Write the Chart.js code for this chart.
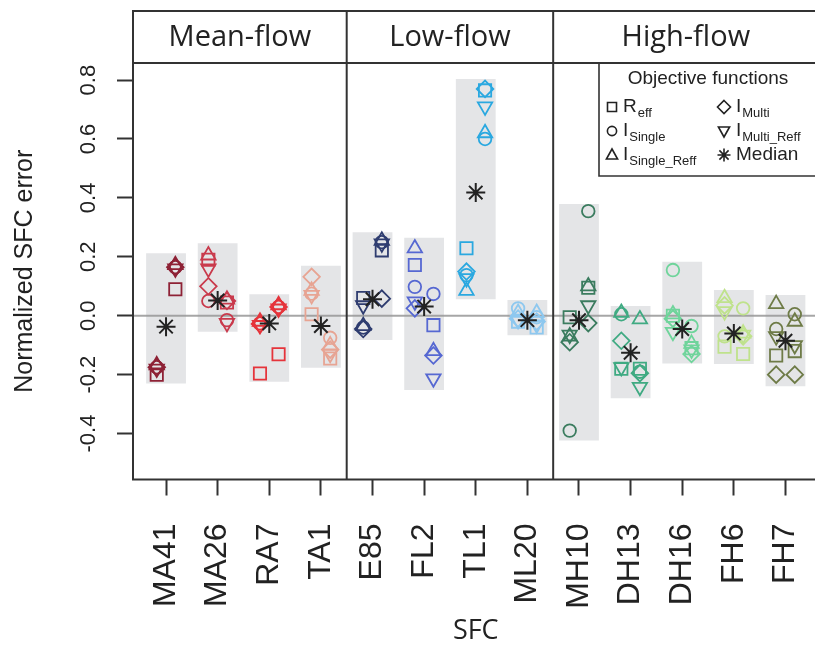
<!DOCTYPE html>
<html><head><meta charset="utf-8">
<script src="https://cdn.jsdelivr.net/npm/chart.js@4.4.1/dist/chart.umd.min.js"></script>
<style>
html,body{margin:0;padding:0;background:#fff;overflow:hidden;}
#wrap{position:relative;width:830px;height:650px;}
#c{width:830px;height:650px;display:block;}
</style></head><body>
<div id="wrap"><canvas id="c" width="830" height="650"></canvas></div>
<script>
// ---------- data ----------
const sfcNames = ['MA41','MA26','RA7','TA1','E85','FL2','TL1','ML20','MH10','DH13','DH16','FH6','FH7'];
const flowGroups = ['Mean-flow','Low-flow','High-flow'];
const groupSizes = [4, 4, 5];
const yTicks = [-0.4, -0.2, 0.0, 0.2, 0.4, 0.6, 0.8];

// left-hand run of each SFC
const reffL       = [-0.200, 0.190, -0.196, 0.005, 0.060, 0.172, 0.229, -0.020, -0.005, -0.180, 0.000, -0.105, -0.135];
const singleL     = [-0.175, 0.050, -0.026, 0.075, -0.040, 0.098, 0.138, 0.025, -0.390, 0.005, 0.155, -0.070, -0.045];
const singleReffL = [-0.168, 0.205, -0.020, 0.085, -0.035, 0.229, 0.085, 0.010, -0.070, 0.010, 0.005, 0.060, 0.040];
const multiL      = [-0.175, 0.100, -0.028, 0.132, -0.045, 0.025, 0.150, -0.010, -0.090, -0.085, -0.010, 0.035, -0.200];
const multiReffL  = [-0.180, 0.160, -0.032, 0.070, 0.035, 0.048, 0.127, -0.015, -0.065, -0.175, -0.055, 0.015, -0.070];
// right-hand run of each SFC
const reffR       = [0.090, 0.045, -0.131, -0.145, 0.222, -0.032, 0.765, -0.040, 0.095, -0.180, -0.110, -0.130, -0.120];
const singleR     = [0.165, -0.015, 0.030, -0.075, 0.250, 0.074, 0.600, -0.005, 0.355, -0.190, -0.035, 0.025, 0.005];
const singleReffR = [0.172, 0.055, 0.036, -0.100, 0.255, -0.120, 0.620, 0.010, 0.100, -0.012, -0.095, -0.060, -0.020];
const multiR      = [0.165, 0.050, 0.030, -0.115, 0.058, -0.135, 0.770, -0.020, -0.025, -0.195, -0.130, -0.070, -0.200];
const multiReffR  = [0.160, -0.025, 0.024, -0.130, 0.245, -0.213, 0.710, -0.030, 0.035, -0.242, -0.115, -0.065, -0.100];

const medians = [-0.037, 0.052, -0.026, -0.035, 0.056, 0.031, 0.418, -0.015, -0.015, -0.126, -0.045, -0.060, -0.085];
const boxLow  = [-0.230, -0.054, -0.224, -0.177, -0.082, -0.252, 0.056, -0.066, -0.424, -0.280, -0.162, -0.164, -0.239];
const boxHigh = [0.212, 0.246, 0.073, 0.170, 0.283, 0.265, 0.804, 0.053, 0.379, 0.033, 0.183, 0.087, 0.070];

const legendMain = ['R', 'I', 'I', 'I', 'I', 'Median'];
const legendSub  = ['eff', 'Single', 'Single_Reff', 'Multi', 'Multi_Reff', ''];

// ---------- styles ----------
const sfcColors = ['#8e2236','#c93a4c','#e5343b','#e7a493','#2f3d70','#5668d2','#2aa8e0','#8ec8ef','#3b7c5f','#3faa82','#6fd49b','#bfe28c','#6e7b47'];
const X_MIN = 0.36, X_MAX = 13.64, Y_MIN = -0.556, Y_MAX = 0.858;
const JIT = 0.18;
const FRAME = '#333333';

const ofDefs = [
  {L: reffL, R: reffR, style: 'rect', r: 8.7, rot: 0},
  {L: singleL, R: singleR, style: 'circle', r: 6.3, rot: 0},
  {L: singleReffL, R: singleReffR, style: 'triangle', r: 8.3, rot: 0},
  {L: multiL, R: multiR, style: 'rectRot', r: 8.3, rot: 0},
  {L: multiReffL, R: multiReffR, style: 'triangle', r: 8.3, rot: 180}
];

const datasets = [];
datasets.push({
  type: 'bar',
  data: sfcNames.map((n, i) => ({x: i + 1, y: [boxLow[i], boxHigh[i]]})),
  backgroundColor: '#e4e5e7',
  borderWidth: 0,
  barPercentage: 0.771,
  categoryPercentage: 1,
  order: 100
});
ofDefs.forEach(d => {
  [['L', -1], ['R', 1]].forEach(([k, s]) => {
    datasets.push({
      type: 'scatter',
      data: sfcNames.map((n, i) => ({x: i + 1 + s * JIT, y: d[k][i]})),
      pointStyle: d.style,
      pointRadius: d.r,
      pointHoverRadius: d.r,
      pointRotation: d.rot,
      pointBorderWidth: 1.8,
      pointBorderColor: sfcColors,
      pointBackgroundColor: 'rgba(0,0,0,0)',
      showLine: false,
      order: 2
    });
  });
});
datasets.push({
  type: 'scatter',
  data: sfcNames.map((n, i) => ({x: i + 1, y: medians[i]})),
  pointStyle: 'star',
  pointRadius: 9.5,
  pointHoverRadius: 9.5,
  pointBorderWidth: 2,
  pointBorderColor: '#222',
  showLine: false,
  order: 1
});

function drawSym(ctx, type, x, y) {
  ctx.beginPath();
  if (type === 'rect') { ctx.rect(x - 4.5, y - 4.5, 9, 9); }
  else if (type === 'circle') { ctx.arc(x, y, 4.6, 0, Math.PI * 2); }
  else if (type === 'triangle') { ctx.moveTo(x, y - 6); ctx.lineTo(x + 5.6, y + 4); ctx.lineTo(x - 5.6, y + 4); ctx.closePath(); }
  else if (type === 'diamond') { ctx.moveTo(x, y - 6.5); ctx.lineTo(x + 6.5, y); ctx.lineTo(x, y + 6.5); ctx.lineTo(x - 6.5, y); ctx.closePath(); }
  else if (type === 'invtri') { ctx.moveTo(x, y + 6); ctx.lineTo(x + 5.6, y - 4); ctx.lineTo(x - 5.6, y - 4); ctx.closePath(); }
  else if (type === 'star') {
    const r = 6.5, q = r * Math.SQRT1_2;
    ctx.moveTo(x - r, y); ctx.lineTo(x + r, y);
    ctx.moveTo(x, y - r); ctx.lineTo(x, y + r);
    ctx.moveTo(x - q, y - q); ctx.lineTo(x + q, y + q);
    ctx.moveTo(x - q, y + q); ctx.lineTo(x + q, y - q);
  }
  ctx.stroke();
}

const decor = {
  id: 'decor',
  afterDatasetDraw(chart, args) {
    if (args.index !== 0) return;
    const {ctx, chartArea: a, scales: {y}} = chart;
    const py = y.getPixelForValue(0);
    ctx.save();
    ctx.strokeStyle = 'rgba(150,150,150,0.85)';
    ctx.lineWidth = 2;
    ctx.beginPath(); ctx.moveTo(a.left, py); ctx.lineTo(a.right, py); ctx.stroke();
    ctx.restore();
  },
  afterDraw(chart) {
    const {ctx, chartArea: a, scales: {x}} = chart;
    const hTop = 11;
    ctx.save();
    ctx.strokeStyle = FRAME;
    ctx.lineWidth = 2;
    ctx.strokeRect(a.left, a.top, a.right - a.left, a.bottom - a.top);
    ctx.strokeRect(a.left, hTop, a.right - a.left, a.top - hTop);
    // group dividers and strip titles
    const bounds = [a.left];
    let cum = 0;
    groupSizes.forEach((g, i) => {
      cum += g;
      bounds.push(i < groupSizes.length - 1 ? x.getPixelForValue(cum + 0.5) : a.right);
    });
    for (let i = 1; i < bounds.length - 1; i++) {
      ctx.beginPath(); ctx.moveTo(bounds[i], hTop); ctx.lineTo(bounds[i], a.bottom); ctx.stroke();
    }
    ctx.fillStyle = '#222';
    ctx.font = '29px "Open Sans"';
    ctx.textAlign = 'center';
    ctx.textBaseline = 'middle';
    flowGroups.forEach((t, i) => ctx.fillText(t, (bounds[i] + bounds[i + 1]) / 2, (hTop + a.top) / 2 + 1));
    // legend
    const lx = 599, lb = 176;
    ctx.lineWidth = 1.6;
    ctx.beginPath(); ctx.moveTo(lx, a.top); ctx.lineTo(lx, lb); ctx.lineTo(a.right, lb); ctx.stroke();
    ctx.font = '19px "Liberation Sans"';
    ctx.fillText('Objective functions', 708, 79);
    const syms = ['rect', 'circle', 'triangle', 'diamond', 'invtri', 'star'];
    const rowsY = [107, 131, 155];
    ctx.textAlign = 'left';
    ctx.strokeStyle = '#222';
    syms.forEach((s, i) => {
      const col = Math.floor(i / 3), row = i % 3;
      const sx = col === 0 ? 612 : 724, tx = col === 0 ? 623 : 736;
      const yy = rowsY[row];
      drawSym(ctx, s, sx, yy);
      ctx.font = '19px "Liberation Sans"';
      ctx.fillText(legendMain[i], tx, yy);
      const w = ctx.measureText(legendMain[i]).width;
      if (legendSub[i]) {
        ctx.font = '13px "Liberation Sans"';
        ctx.fillText(legendSub[i], tx + w + 1, yy + 6);
      }
    });
    ctx.restore();
  }
};

new Chart(document.getElementById('c'), {
  type: 'scatter',
  data: {datasets},
  plugins: [decor],
  options: {
    responsive: false,
    maintainAspectRatio: false,
    devicePixelRatio: 1,
    animation: false,
    events: [],
    layout: {padding: {top: 63, right: 8, left: 0, bottom: 0}},
    plugins: {legend: {display: false}, tooltip: {enabled: false}},
    scales: {
      x: {
        type: 'linear', min: X_MIN, max: X_MAX, offset: false,
        afterBuildTicks: s => { s.ticks = sfcNames.map((n, i) => ({value: i + 1})); },
        afterFit: s => { s.height = 170.5; s.paddingLeft = 0; s.paddingRight = 0; },
        ticks: {
          callback: v => sfcNames[Math.round(v) - 1] || '',
          autoSkip: false, minRotation: 90, maxRotation: 90, padding: 28,
          color: '#222', font: {family: 'Liberation Sans', size: 32}
        },
        grid: {offset: false, drawOnChartArea: false, drawTicks: true, tickLength: 16, tickColor: FRAME, tickWidth: 2},
        border: {display: false},
        title: {display: true, text: 'SFC', color: '#222', font: {family: 'Open Sans', size: 27}, padding: {top: 0, bottom: 2}}
      },
      y: {
        type: 'linear', min: Y_MIN, max: Y_MAX, offset: false,
        afterBuildTicks: s => { s.ticks = yTicks.map(v => ({value: v})); },
        afterFit: s => { s.width = 133; s.paddingTop = 0; s.paddingBottom = 0; },
        ticks: {
          callback: v => Number(v).toFixed(1),
          minRotation: 90, maxRotation: 90, crossAlign: 'center', padding: 9,
          color: '#222', font: {family: 'Liberation Sans', size: 22}
        },
        grid: {drawOnChartArea: false, drawTicks: true, tickLength: 16, tickColor: FRAME, tickWidth: 2},
        border: {display: false},
        title: {display: true, text: 'Normalized SFC error', color: '#222', font: {family: 'Liberation Sans', size: 25}, padding: {top: 10, bottom: 0}}
      }
    }
  }
});
</script>
</body></html>
